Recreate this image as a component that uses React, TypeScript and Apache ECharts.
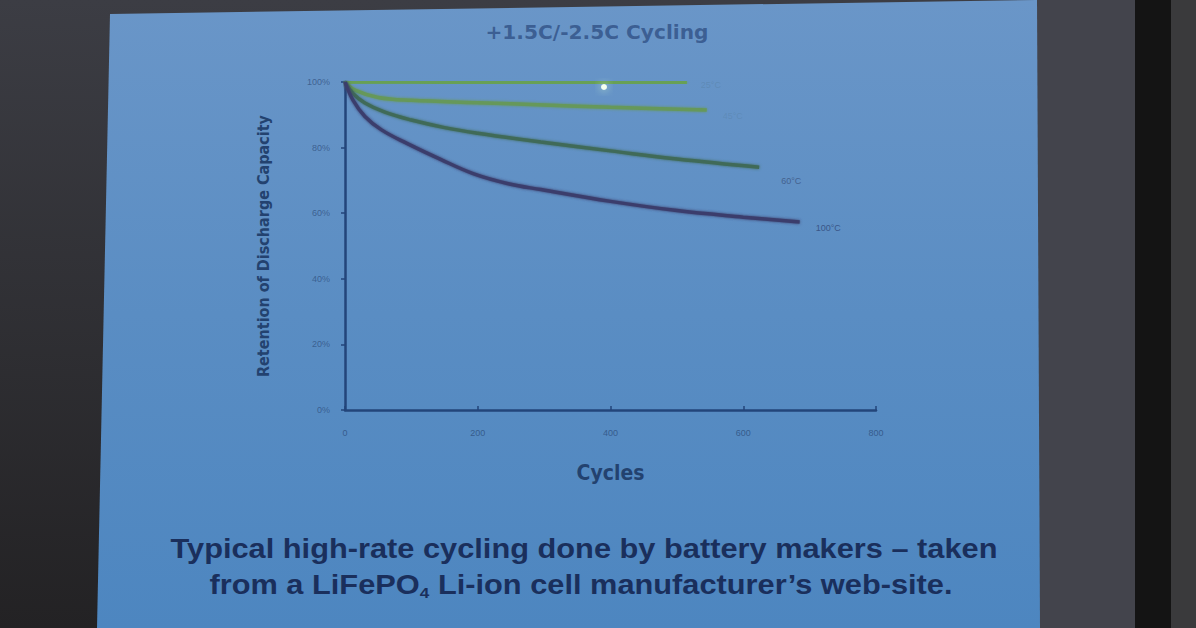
import React, { useEffect, useRef } from "react";
import * as echarts from "echarts";

const xTicks = [0, 200, 400, 600, 800];
const yTickLabels = ["0%", "20%", "40%", "60%", "80%", "100%"];

const seriesNames = ["25°C", "45°C", "60°C", "100°C"];
const cycles1 = [0, 100, 200, 300, 400, 515];
const retention1 = [100, 100, 99.9, 99.9, 99.8, 99.8];
const cycles2 = [0, 15, 50, 100, 200, 300, 400, 545];
const retention2 = [100, 97.5, 95.3, 94.4, 93.7, 93, 92.3, 91.5];
const cycles3 = [0, 12, 30, 60, 100, 150, 200, 295, 400, 500, 624];
const retention3 = [100, 96.5, 93.6, 90.8, 88.4, 86.1, 84.4, 81.7, 79, 76.5, 74];
const cycles4 = [0, 12, 30, 55, 94, 144, 194, 246, 295, 400, 500, 600, 685];
const retention4 = [100, 94.5, 89.5, 85.4, 81.2, 76.4, 72, 69, 67.2, 63.6, 60.8, 58.8, 57.3];

const pairs = (xs: number[], ys: number[]) => xs.map((x, i) => [x, ys[i]]);

export default function App() {
  const ref = useRef<HTMLDivElement>(null);
  useEffect(() => {
    document.body.style.margin = "0";
    const chart = echarts.init(ref.current!, undefined, { renderer: "svg" });
    const lineColors = ["#67a055", "#66985a", "#3f6b58", "#3b3e6c"];
    const labelColors = ["rgba(80,120,150,0.35)", "rgba(80,120,150,0.3)", "#44628f", "#3a5688"];
    const labelOffsets = [[6, 2], [8, 6], [14, 14], [8, 6]];
    const datasets = [
      pairs(cycles1, retention1),
      pairs(cycles2, retention2),
      pairs(cycles3, retention3),
      pairs(cycles4, retention4),
    ];
    chart.setOption({
      animation: false,
      backgroundColor: "#2f3036",
      graphic: [
        {
          type: "rect",
          z: -10,
          shape: { x: 0, y: 0, width: 1196, height: 628 },
          style: {
            fill: new echarts.graphic.LinearGradient(0, 0, 0, 1, [
              { offset: 0, color: "#3c3d44" },
              { offset: 1, color: "#232224" },
            ]),
          },
        },
        {
          type: "rect",
          z: -10,
          shape: { x: 1037, y: 0, width: 100, height: 628 },
          style: { fill: "#43444c" },
        },
        {
          type: "rect",
          z: -10,
          shape: { x: 1135, y: 0, width: 36, height: 628 },
          style: { fill: "#141414" },
        },
        {
          type: "rect",
          z: -10,
          shape: { x: 1171, y: 0, width: 25, height: 628 },
          style: { fill: "#3a3a3c" },
        },
        {
          type: "polygon",
          z: -9,
          shape: { points: [[110, 14], [1037, 0], [1040, 628], [97, 628]] },
          style: {
            fill: new echarts.graphic.LinearGradient(0, 0, 0, 1, [
              { offset: 0, color: "#6a96c8" },
              { offset: 0.5, color: "#5a8dc3" },
              { offset: 1, color: "#4d86c0" },
            ]),
          },
        },
        {
          type: "text",
          x: 597,
          y: 33,
          scaleX: 1.18,
          style: {
            text: "+1.5C/-2.5C Cycling",
            fill: "#34558a",
            font: "bold 19px 'DejaVu Sans Condensed', 'Open Sans', sans-serif",
            align: "center",
            verticalAlign: "middle",
            opacity: 0.85,
          },
        },
        {
          type: "text",
          x: 584,
          y: 549,
          scaleX: 1.14,
          style: {
            text: "Typical high-rate cycling done by battery makers – taken",
            fill: "#1a2f5c",
            font: "bold 27px 'Liberation Sans', Arial, sans-serif",
            align: "center",
            verticalAlign: "middle",
          },
        },
        {
          type: "text",
          x: 581,
          y: 585,
          scaleX: 1.14,
          style: {
            text: "{m|from a LiFePO}{s|4}{m| Li-ion cell manufacturer’s web-site.}",
            align: "center",
            verticalAlign: "middle",
            rich: {
              m: { fill: "#1a2f5c", font: "bold 27px 'Liberation Sans', Arial, sans-serif" },
              s: { fill: "#1a2f5c", font: "bold 15px 'Liberation Sans', Arial, sans-serif", padding: [14, 0, 0, 0] },
            },
          },
        },
        {
          type: "circle",
          shape: { cx: 604, cy: 87, r: 3 },
          style: { fill: "#f4fff0", shadowBlur: 8, shadowColor: "#d8ffd0" },
          z: 100,
        },
      ],
      grid: { left: 345, right: 320, top: 82, bottom: 218 },
      xAxis: {
        type: "value",
        min: 0,
        max: 800,
        interval: 200,
        name: "Cycles",
        nameLocation: "middle",
        nameGap: 52,
        nameTextStyle: {
          color: "#23426f",
          fontSize: 21,
          fontWeight: "bold",
          fontFamily: "'DejaVu Sans Condensed', sans-serif",
        },
        axisLine: { show: true, lineStyle: { color: "#23457a", width: 2.5 } },
        axisTick: { show: true, inside: true, length: 4, lineStyle: { color: "#23457a", width: 1.5 } },
        splitLine: { show: false },
        axisLabel: {
          color: "rgba(40,70,115,0.7)",
          fontSize: 9,
          margin: 18,
          formatter: (v: number) => (xTicks.includes(v) ? String(v) : ""),
        },
      },
      yAxis: {
        type: "value",
        min: 0,
        max: 100,
        interval: 20,
        name: "Retention of Discharge Capacity",
        nameLocation: "middle",
        nameGap: 74,
        nameRotate: 90,
        nameTextStyle: {
          color: "#23426f",
          fontSize: 16,
          fontWeight: "bold",
          fontFamily: "'DejaVu Sans Condensed', sans-serif",
        },
        axisLine: { show: true, lineStyle: { color: "#23457a", width: 2.5 } },
        axisTick: { show: true, length: 4, lineStyle: { color: "#23457a", width: 1.5 } },
        splitLine: { show: false },
        axisLabel: {
          color: "rgba(40,70,115,0.65)",
          fontSize: 9,
          margin: 15,
          formatter: (v: number) => yTickLabels[Math.round(v / 20)] ?? "",
        },
      },
      series: datasets.map((d, i) => ({
        type: "line",
        name: seriesNames[i],
        data: d,
        smooth: 0.4,
        showSymbol: false,
        lineStyle: {
          color: lineColors[i],
          width: 3.5,
          shadowBlur: 3,
          shadowColor: lineColors[i],
        },
        endLabel: {
          show: true,
          formatter: "{a}",
          color: labelColors[i],
          fontSize: 9,
          offset: labelOffsets[i],
        },
      })),
    });
    return () => chart.dispose();
  }, []);
  return <div ref={ref} style={{ width: 1196, height: 628 }} />;
}
